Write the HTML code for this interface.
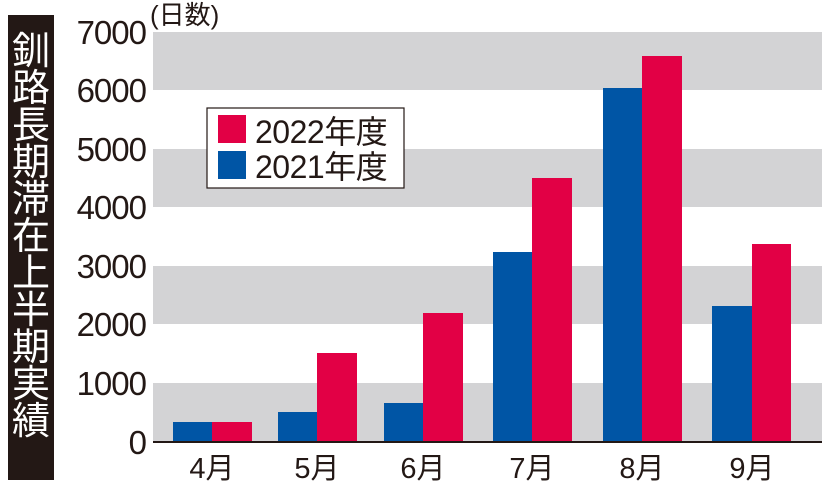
<!DOCTYPE html><html><head><meta charset="utf-8"><style>body{margin:0;background:#fff}svg{display:block}text{font-family:"Liberation Sans","Noto Sans CJK JP",sans-serif}</style></head><body>
<svg width="822" height="483" viewBox="0 0 822 483">
<rect x="8" y="15" width="46" height="465" fill="#231815"/>
<text fill="#fff" font-size="38" text-anchor="middle" font-family="Noto Sans CJK JP,sans-serif">
<tspan x="31" y="64">釧</tspan><tspan x="31" y="101">路</tspan><tspan x="31" y="138">長</tspan><tspan x="31" y="175">期</tspan><tspan x="31" y="212">滞</tspan><tspan x="31" y="249">在</tspan><tspan x="31" y="286">上</tspan><tspan x="31" y="323">半</tspan><tspan x="31" y="360">期</tspan><tspan x="31" y="397">実</tspan><tspan x="31" y="434">績</tspan></text>
<g fill="#d3d3d5"><rect x="153" y="32" width="669" height="58"/><rect x="153" y="149" width="669" height="58"/><rect x="153" y="266" width="669" height="58"/><rect x="153" y="383" width="669" height="59"/></g>
<g font-size="33" fill="#231815" text-anchor="end" letter-spacing="-1"><text x="146" y="44">7000</text><text x="146" y="102">6000</text><text x="146" y="161">5000</text><text x="146" y="219">4000</text><text x="146" y="278">3000</text><text x="146" y="336">2000</text><text x="146" y="395">1000</text><text x="146" y="454">0</text></g>
<text x="150" y="24" font-size="26" fill="#231815">(日数)</text>
<g fill="#0055a5"><rect x="173" y="422" width="39" height="20"/><rect x="278" y="412" width="39" height="30"/><rect x="384" y="403" width="39" height="39"/><rect x="493" y="252" width="39" height="190"/><rect x="603" y="88" width="39" height="354"/><rect x="712" y="306" width="40" height="136"/></g>
<g fill="#e20045"><rect x="212" y="422" width="40" height="20"/><rect x="317" y="353" width="40" height="89"/><rect x="423" y="313" width="40" height="129"/><rect x="532" y="178" width="40" height="264"/><rect x="642" y="56" width="40" height="386"/><rect x="752" y="244" width="39" height="198"/></g>
<line x1="153" y1="442" x2="822" y2="442" stroke="#231815" stroke-width="2"/>
<g font-size="29" fill="#231815" text-anchor="middle"><text x="212" y="478">4月</text><text x="317" y="478">5月</text><text x="423" y="478">6月</text><text x="532" y="478">7月</text><text x="642" y="478">8月</text><text x="752" y="478">9月</text></g>
<rect x="207" y="108" width="197" height="80" fill="#fff" stroke="#231815" stroke-width="1.2"/>
<rect x="218" y="115" width="28" height="28" fill="#e20045"/><rect x="218" y="151" width="28" height="28" fill="#0055a5"/>
<g font-size="32" fill="#231815" letter-spacing="-0.5"><text x="255" y="143">2022年度</text><text x="255" y="178">2021年度</text></g>
</svg></body></html>
